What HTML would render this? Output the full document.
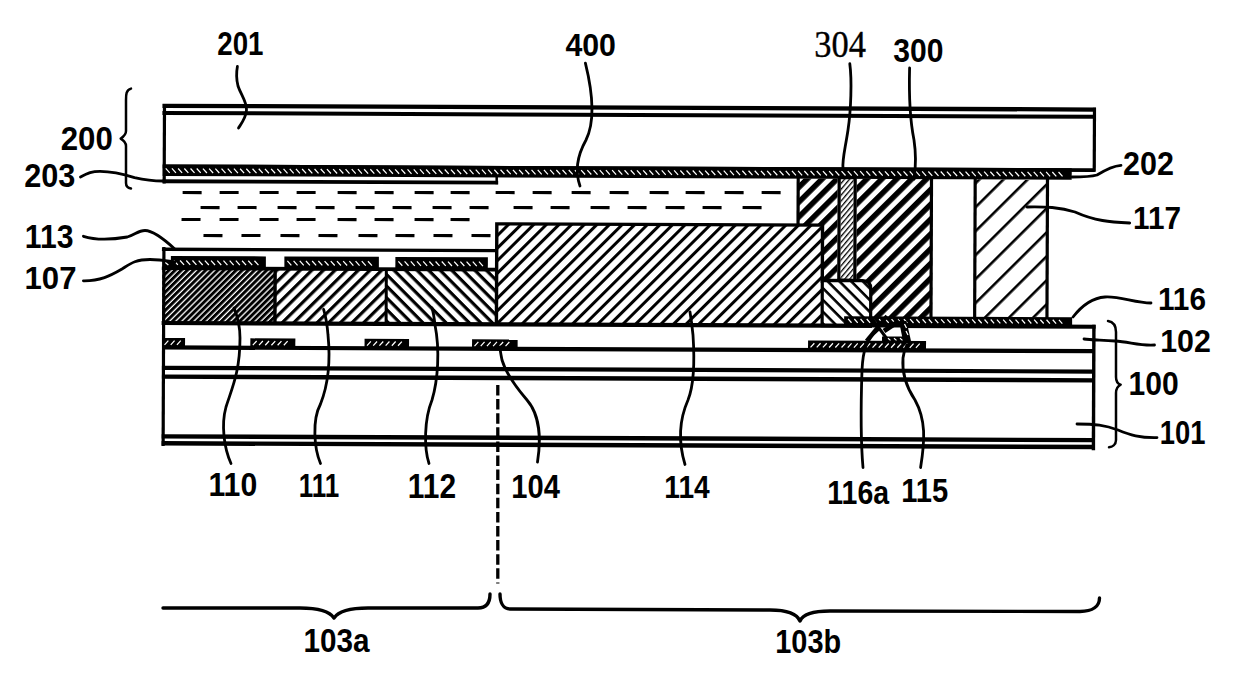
<!DOCTYPE html>
<html><head><meta charset="utf-8"><style>
html,body{margin:0;padding:0;background:#fff;overflow:hidden;}
svg{display:block;}
</style></head><body>
<svg width="1240" height="696" viewBox="0 0 1240 696">
<defs><pattern id="h114" patternUnits="userSpaceOnUse" width="40" height="8.9" patternTransform="rotate(-45)"><rect x="0" y="0" width="40" height="3.0" fill="#000"/></pattern><pattern id="h111" patternUnits="userSpaceOnUse" width="40" height="8.2" patternTransform="rotate(-45)"><rect x="0" y="0" width="40" height="3.2" fill="#000"/></pattern><pattern id="h112" patternUnits="userSpaceOnUse" width="40" height="8.2" patternTransform="rotate(45)"><rect x="0" y="0" width="40" height="3.2" fill="#000"/></pattern><pattern id="h110" patternUnits="userSpaceOnUse" width="40" height="4.3" patternTransform="rotate(-45)"><rect x="0" y="0" width="40" height="3.0" fill="#000"/></pattern><pattern id="h300" patternUnits="userSpaceOnUse" width="40" height="10.5" patternTransform="rotate(-45)"><rect x="0" y="0" width="40" height="5.5" fill="#000"/></pattern><pattern id="h117" patternUnits="userSpaceOnUse" width="40" height="17" patternTransform="rotate(-45)"><rect x="0" y="0" width="40" height="2.6" fill="#000"/></pattern><pattern id="h115" patternUnits="userSpaceOnUse" width="40" height="8.3" patternTransform="rotate(45)"><rect x="0" y="0" width="40" height="2.6" fill="#000"/></pattern><pattern id="h304" patternUnits="userSpaceOnUse" width="40" height="3.8" patternTransform="rotate(-50)"><rect x="0" y="0" width="40" height="1.3" fill="#000"/></pattern>
 <pattern id="mk" patternUnits="userSpaceOnUse" width="6.2" height="40">
  <path d="M0.8,0 L4.6,4.2" stroke="#fff" stroke-width="1.6"/>
 </pattern>
 <pattern id="mkf" patternUnits="userSpaceOnUse" width="6.2" height="40">
  <path d="M0.8,4.5 L4.6,0" stroke="#fff" stroke-width="1.6"/>
 </pattern>
</defs>
<rect width="1240" height="696" fill="#fff"/>
<g transform="rotate(0.23 163 104)">
<path d="M162.5,105.8 L1096,105.8" stroke="#000" stroke-width="4.3" fill="none"/>
<path d="M162.5,113 L1096,113" stroke="#000" stroke-width="4.0" fill="none"/>
<path d="M164.5,104 L164.5,183.5" stroke="#000" stroke-width="3.2" fill="none"/>
<path d="M1094.5,104 L1094.5,168" stroke="#000" stroke-width="3.2" fill="none"/>
<rect x="163" y="164.5" width="932" height="3.8" fill="#000"/>
<rect x="163" y="164.5" width="909" height="11.5" fill="#000"/>
<path d="M166.0,168.4 l4.0,4.4 M172.2,168.4 l4.0,4.4 M178.4,168.4 l4.0,4.4 M184.6,168.4 l4.0,4.4 M190.8,168.4 l4.0,4.4 M197.0,168.4 l4.0,4.4 M203.2,168.4 l4.0,4.4 M209.4,168.4 l4.0,4.4 M215.6,168.4 l4.0,4.4 M221.8,168.4 l4.0,4.4 M228.0,168.4 l4.0,4.4 M234.2,168.4 l4.0,4.4 M240.4,168.4 l4.0,4.4 M246.6,168.4 l4.0,4.4 M252.8,168.4 l4.0,4.4 M259.0,168.4 l4.0,4.4 M265.2,168.4 l4.0,4.4 M271.4,168.4 l4.0,4.4 M277.6,168.4 l4.0,4.4 M283.8,168.4 l4.0,4.4 M290.0,168.4 l4.0,4.4 M296.2,168.4 l4.0,4.4 M302.4,168.4 l4.0,4.4 M308.6,168.4 l4.0,4.4 M314.8,168.4 l4.0,4.4 M321.0,168.4 l4.0,4.4 M327.2,168.4 l4.0,4.4 M333.4,168.4 l4.0,4.4 M339.6,168.4 l4.0,4.4 M345.8,168.4 l4.0,4.4 M352.0,168.4 l4.0,4.4 M358.2,168.4 l4.0,4.4 M364.4,168.4 l4.0,4.4 M370.6,168.4 l4.0,4.4 M376.8,168.4 l4.0,4.4 M383.0,168.4 l4.0,4.4 M389.2,168.4 l4.0,4.4 M395.4,168.4 l4.0,4.4 M401.6,168.4 l4.0,4.4 M407.8,168.4 l4.0,4.4 M414.0,168.4 l4.0,4.4 M420.2,168.4 l4.0,4.4 M426.4,168.4 l4.0,4.4 M432.6,168.4 l4.0,4.4 M438.8,168.4 l4.0,4.4 M445.0,168.4 l4.0,4.4 M451.2,168.4 l4.0,4.4 M457.4,168.4 l4.0,4.4 M463.6,168.4 l4.0,4.4 M469.8,168.4 l4.0,4.4 M476.0,168.4 l4.0,4.4 M482.2,168.4 l4.0,4.4 M488.4,168.4 l4.0,4.4 M494.6,168.4 l4.0,4.4 M500.8,168.4 l4.0,4.4 M507.0,168.4 l4.0,4.4 M513.2,168.4 l4.0,4.4 M519.4,168.4 l4.0,4.4 M525.6,168.4 l4.0,4.4 M531.8,168.4 l4.0,4.4 M538.0,168.4 l4.0,4.4 M544.2,168.4 l4.0,4.4 M550.4,168.4 l4.0,4.4 M556.6,168.4 l4.0,4.4 M562.8,168.4 l4.0,4.4 M569.0,168.4 l4.0,4.4 M575.2,168.4 l4.0,4.4 M581.4,168.4 l4.0,4.4 M587.6,168.4 l4.0,4.4 M593.8,168.4 l4.0,4.4 M600.0,168.4 l4.0,4.4 M606.2,168.4 l4.0,4.4 M612.4,168.4 l4.0,4.4 M618.6,168.4 l4.0,4.4 M624.8,168.4 l4.0,4.4 M631.0,168.4 l4.0,4.4 M637.2,168.4 l4.0,4.4 M643.4,168.4 l4.0,4.4 M649.6,168.4 l4.0,4.4 M655.8,168.4 l4.0,4.4 M662.0,168.4 l4.0,4.4 M668.2,168.4 l4.0,4.4 M674.4,168.4 l4.0,4.4 M680.6,168.4 l4.0,4.4 M686.8,168.4 l4.0,4.4 M693.0,168.4 l4.0,4.4 M699.2,168.4 l4.0,4.4 M705.4,168.4 l4.0,4.4 M711.6,168.4 l4.0,4.4 M717.8,168.4 l4.0,4.4 M724.0,168.4 l4.0,4.4 M730.2,168.4 l4.0,4.4 M736.4,168.4 l4.0,4.4 M742.6,168.4 l4.0,4.4 M748.8,168.4 l4.0,4.4 M755.0,168.4 l4.0,4.4 M761.2,168.4 l4.0,4.4 M767.4,168.4 l4.0,4.4 M773.6,168.4 l4.0,4.4 M779.8,168.4 l4.0,4.4 M786.0,168.4 l4.0,4.4 M792.2,168.4 l4.0,4.4 M798.4,168.4 l4.0,4.4 M804.6,168.4 l4.0,4.4 M810.8,168.4 l4.0,4.4 M817.0,168.4 l4.0,4.4 M823.2,168.4 l4.0,4.4 M829.4,168.4 l4.0,4.4 M835.6,168.4 l4.0,4.4 M841.8,168.4 l4.0,4.4 M848.0,168.4 l4.0,4.4 M854.2,168.4 l4.0,4.4 M860.4,168.4 l4.0,4.4 M866.6,168.4 l4.0,4.4 M872.8,168.4 l4.0,4.4 M879.0,168.4 l4.0,4.4 M885.2,168.4 l4.0,4.4 M891.4,168.4 l4.0,4.4 M897.6,168.4 l4.0,4.4 M903.8,168.4 l4.0,4.4 M910.0,168.4 l4.0,4.4 M916.2,168.4 l4.0,4.4 M922.4,168.4 l4.0,4.4 M928.6,168.4 l4.0,4.4 M934.8,168.4 l4.0,4.4 M941.0,168.4 l4.0,4.4 M947.2,168.4 l4.0,4.4 M953.4,168.4 l4.0,4.4 M959.6,168.4 l4.0,4.4 M965.8,168.4 l4.0,4.4 M972.0,168.4 l4.0,4.4 M978.2,168.4 l4.0,4.4 M984.4,168.4 l4.0,4.4 M990.6,168.4 l4.0,4.4 M996.8,168.4 l4.0,4.4 M1003.0,168.4 l4.0,4.4 M1009.2,168.4 l4.0,4.4 M1015.4,168.4 l4.0,4.4 M1021.6,168.4 l4.0,4.4 M1027.8,168.4 l4.0,4.4 M1034.0,168.4 l4.0,4.4 M1040.2,168.4 l4.0,4.4 M1046.4,168.4 l4.0,4.4 M1052.6,168.4 l4.0,4.4 M1058.8,168.4 l4.0,4.4" stroke="#fff" stroke-width="1.25" fill="none"/>
<path d="M163,181.3 L498.5,181.3" stroke="#000" stroke-width="3.9" fill="none"/>
<path d="M497,175 L497,183" stroke="#000" stroke-width="2.5" fill="none"/>
<path d="M183,192.42 h19" stroke="#000" stroke-width="3.1"/>
<path d="M220,192.27 h19" stroke="#000" stroke-width="3.1"/>
<path d="M260,192.11 h19" stroke="#000" stroke-width="3.1"/>
<path d="M297,191.96 h19" stroke="#000" stroke-width="3.1"/>
<path d="M338,191.80 h19" stroke="#000" stroke-width="3.1"/>
<path d="M375,191.65 h19" stroke="#000" stroke-width="3.1"/>
<path d="M415,191.49 h19" stroke="#000" stroke-width="3.1"/>
<path d="M451,191.35 h19" stroke="#000" stroke-width="3.1"/>
<path d="M496,191.17 h19" stroke="#000" stroke-width="3.1"/>
<path d="M533,191.02 h19" stroke="#000" stroke-width="3.1"/>
<path d="M572,190.86 h19" stroke="#000" stroke-width="3.1"/>
<path d="M610,190.71 h19" stroke="#000" stroke-width="3.1"/>
<path d="M650,190.55 h19" stroke="#000" stroke-width="3.1"/>
<path d="M686,190.41 h19" stroke="#000" stroke-width="3.1"/>
<path d="M725,190.25 h19" stroke="#000" stroke-width="3.1"/>
<path d="M762,190.10 h19" stroke="#000" stroke-width="3.1"/>
<path d="M201,207.35 h19" stroke="#000" stroke-width="3.1"/>
<path d="M238,207.20 h19" stroke="#000" stroke-width="3.1"/>
<path d="M278,207.04 h19" stroke="#000" stroke-width="3.1"/>
<path d="M316,206.89 h19" stroke="#000" stroke-width="3.1"/>
<path d="M356,206.73 h19" stroke="#000" stroke-width="3.1"/>
<path d="M393,206.58 h19" stroke="#000" stroke-width="3.1"/>
<path d="M433,206.42 h19" stroke="#000" stroke-width="3.1"/>
<path d="M470,206.27 h19" stroke="#000" stroke-width="3.1"/>
<path d="M514,206.10 h19" stroke="#000" stroke-width="3.1"/>
<path d="M551,205.95 h19" stroke="#000" stroke-width="3.1"/>
<path d="M591,205.79 h19" stroke="#000" stroke-width="3.1"/>
<path d="M628,205.64 h19" stroke="#000" stroke-width="3.1"/>
<path d="M666,205.49 h19" stroke="#000" stroke-width="3.1"/>
<path d="M703,205.34 h19" stroke="#000" stroke-width="3.1"/>
<path d="M743,205.18 h19" stroke="#000" stroke-width="3.1"/>
<path d="M182,219.42 h19" stroke="#000" stroke-width="3.1"/>
<path d="M220,219.27 h19" stroke="#000" stroke-width="3.1"/>
<path d="M260,219.11 h19" stroke="#000" stroke-width="3.1"/>
<path d="M297,218.96 h19" stroke="#000" stroke-width="3.1"/>
<path d="M338,218.80 h19" stroke="#000" stroke-width="3.1"/>
<path d="M375,218.65 h19" stroke="#000" stroke-width="3.1"/>
<path d="M415,218.49 h19" stroke="#000" stroke-width="3.1"/>
<path d="M451,218.35 h19" stroke="#000" stroke-width="3.1"/>
<path d="M204,235.34 h19" stroke="#000" stroke-width="3.1"/>
<path d="M242,235.18 h19" stroke="#000" stroke-width="3.1"/>
<path d="M281,235.03 h19" stroke="#000" stroke-width="3.1"/>
<path d="M319,234.88 h19" stroke="#000" stroke-width="3.1"/>
<path d="M359,234.72 h19" stroke="#000" stroke-width="3.1"/>
<path d="M396,234.57 h19" stroke="#000" stroke-width="3.1"/>
<path d="M434,234.42 h19" stroke="#000" stroke-width="3.1"/>
<path d="M472,234.26 h19" stroke="#000" stroke-width="3.1"/>
<path d="M162.5,249.3 L498,249.3" stroke="#000" stroke-width="3.4" fill="none"/>
<path d="M164.5,247 L164.5,446" stroke="#000" stroke-width="3.2" fill="none"/>
<rect x="163" y="260" width="10" height="8" fill="#000"/>
<path d="M166,262.5 l3,2.5" stroke="#fff" stroke-width="1.2"/>
<rect x="171.5" y="256" width="95.0" height="12" fill="#000"/>
<path d="M174.5,260.4 l4.0,4.4 M180.7,260.4 l4.0,4.4 M186.9,260.4 l4.0,4.4 M193.1,260.4 l4.0,4.4 M199.3,260.4 l4.0,4.4 M205.5,260.4 l4.0,4.4 M211.7,260.4 l4.0,4.4 M217.9,260.4 l4.0,4.4 M224.1,260.4 l4.0,4.4 M230.3,260.4 l4.0,4.4 M236.5,260.4 l4.0,4.4 M242.7,260.4 l4.0,4.4 M248.9,260.4 l4.0,4.4 M255.1,260.4 l4.0,4.4" stroke="#fff" stroke-width="1.25" fill="none"/>
<rect x="285" y="256" width="94.5" height="12" fill="#000"/>
<path d="M288.0,260.4 l4.0,4.4 M294.2,260.4 l4.0,4.4 M300.4,260.4 l4.0,4.4 M306.6,260.4 l4.0,4.4 M312.8,260.4 l4.0,4.4 M319.0,260.4 l4.0,4.4 M325.2,260.4 l4.0,4.4 M331.4,260.4 l4.0,4.4 M337.6,260.4 l4.0,4.4 M343.8,260.4 l4.0,4.4 M350.0,260.4 l4.0,4.4 M356.2,260.4 l4.0,4.4 M362.4,260.4 l4.0,4.4 M368.6,260.4 l4.0,4.4" stroke="#fff" stroke-width="1.25" fill="none"/>
<rect x="396" y="256" width="92.5" height="12" fill="#000"/>
<path d="M399.0,260.4 l4.0,4.4 M405.2,260.4 l4.0,4.4 M411.4,260.4 l4.0,4.4 M417.6,260.4 l4.0,4.4 M423.8,260.4 l4.0,4.4 M430.0,260.4 l4.0,4.4 M436.2,260.4 l4.0,4.4 M442.4,260.4 l4.0,4.4 M448.6,260.4 l4.0,4.4 M454.8,260.4 l4.0,4.4 M461.0,260.4 l4.0,4.4 M467.2,260.4 l4.0,4.4 M473.4,260.4 l4.0,4.4 M479.6,260.4 l4.0,4.4" stroke="#fff" stroke-width="1.25" fill="none"/>
<rect x="163" y="268" width="113" height="55" fill="url(#h110)"/>
<rect x="276" y="268" width="111" height="55" fill="url(#h111)"/>
<rect x="387" y="268" width="110" height="55" fill="url(#h112)"/>
<path d="M162.5,268.3 L498,268.3" stroke="#000" stroke-width="3.6" fill="none"/>
<path d="M275.8,268 L275.8,323" stroke="#000" stroke-width="3.4" fill="none"/>
<path d="M387,268 L387,323" stroke="#000" stroke-width="3" fill="none"/>
<rect x="798" y="176" width="135" height="141" fill="url(#h300)"/>
<rect x="497" y="222.5" width="326" height="100" fill="#fff"/>
<rect x="497" y="222.5" width="326" height="100" fill="url(#h114)"/>
<path d="M497.3,323 L497.3,222.5 L823,222.5 L823,280" stroke="#000" stroke-width="3.4" fill="none"/>
<path d="M798.5,175 L798.5,222.5" stroke="#000" stroke-width="3.2" fill="none"/>
<path d="M931.8,175 L931.8,316" stroke="#000" stroke-width="3.2" fill="none"/>
<rect x="838" y="176" width="19" height="101.5" fill="#fff"/>
<rect x="841" y="176" width="13" height="101.5" fill="url(#h304)"/>
<rect x="839.5" y="175" width="16" height="102.5" stroke="#000" stroke-width="3.2" fill="none"/>
<path d="M823,277.8 L863.5,277.8 Q871.5,277.8 871.5,286 L871.5,323 L823,323 Z" fill="#fff"/>
<path d="M823,277.8 L863.5,277.8 Q871.5,277.8 871.5,286 L871.5,323 L823,323 Z" fill="url(#h115)" stroke="#000" stroke-width="3.2"/>
<rect x="975.5" y="176" width="72.5" height="138" fill="url(#h117)"/>
<path d="M975.5,175 L975.5,314.5" stroke="#000" stroke-width="3.2" fill="none"/>
<path d="M1047.8,175 L1047.8,314.5" stroke="#000" stroke-width="3.2" fill="none"/>
<rect x="845" y="313.5" width="228" height="9" fill="#000"/>
<path d="M849.0,316.2 l3.4,3.8 M855.2,316.2 l3.4,3.8 M861.4,316.2 l3.4,3.8 M867.6,316.2 l3.4,3.8 M873.8,316.2 l3.4,3.8 M880.0,316.2 l3.4,3.8 M886.2,316.2 l3.4,3.8 M892.4,316.2 l3.4,3.8 M898.6,316.2 l3.4,3.8 M904.8,316.2 l3.4,3.8 M911.0,316.2 l3.4,3.8 M917.2,316.2 l3.4,3.8 M923.4,316.2 l3.4,3.8 M929.6,316.2 l3.4,3.8 M935.8,316.2 l3.4,3.8 M942.0,316.2 l3.4,3.8 M948.2,316.2 l3.4,3.8 M954.4,316.2 l3.4,3.8 M960.6,316.2 l3.4,3.8 M966.8,316.2 l3.4,3.8 M973.0,316.2 l3.4,3.8 M979.2,316.2 l3.4,3.8 M985.4,316.2 l3.4,3.8 M991.6,316.2 l3.4,3.8 M997.8,316.2 l3.4,3.8 M1004.0,316.2 l3.4,3.8 M1010.2,316.2 l3.4,3.8 M1016.4,316.2 l3.4,3.8 M1022.6,316.2 l3.4,3.8 M1028.8,316.2 l3.4,3.8 M1035.0,316.2 l3.4,3.8 M1041.2,316.2 l3.4,3.8 M1047.4,316.2 l3.4,3.8 M1053.6,316.2 l3.4,3.8 M1059.8,316.2 l3.4,3.8" stroke="#fff" stroke-width="1.25" fill="none"/>
<path d="M162.5,323 L1096.5,323" stroke="#000" stroke-width="4.2" fill="none"/>
<path d="M1094.8,321 L1094.8,446.5" stroke="#000" stroke-width="3.4" fill="none"/>
<path d="M163,347.4 L1096,347.4" stroke="#000" stroke-width="4.2" fill="none"/>
<path d="M163,367.8 L1096,367.8" stroke="#000" stroke-width="4.2" fill="none"/>
<path d="M163,376.6 L1096,376.6" stroke="#000" stroke-width="4.4" fill="none"/>
<path d="M163,436.4 L1096,436.4" stroke="#000" stroke-width="4.4" fill="none"/>
<path d="M163,443.3 L1096,443.3" stroke="#000" stroke-width="4.4" fill="none"/>
<rect x="163" y="338" width="23" height="9.3" fill="#000"/>
<path d="M165.5,344.8 l3.8,-4.2 M171.7,344.8 l3.8,-4.2 M177.9,344.8 l3.8,-4.2" stroke="#fff" stroke-width="1.25" fill="none"/>
<rect x="251.3" y="338" width="45.0" height="9.3" fill="#000"/>
<path d="M253.8,344.8 l3.8,-4.2 M260.0,344.8 l3.8,-4.2 M266.2,344.8 l3.8,-4.2 M272.4,344.8 l3.8,-4.2 M278.6,344.8 l3.8,-4.2 M284.8,344.8 l3.8,-4.2" stroke="#fff" stroke-width="1.25" fill="none"/>
<rect x="365.5" y="338" width="44.5" height="9.3" fill="#000"/>
<path d="M368.0,344.8 l3.8,-4.2 M374.2,344.8 l3.8,-4.2 M380.4,344.8 l3.8,-4.2 M386.6,344.8 l3.8,-4.2 M392.8,344.8 l3.8,-4.2 M399.0,344.8 l3.8,-4.2" stroke="#fff" stroke-width="1.25" fill="none"/>
<rect x="473" y="338" width="45.60000000000002" height="9.3" fill="#000"/>
<path d="M475.5,344.8 l3.8,-4.2 M481.7,344.8 l3.8,-4.2 M487.9,344.8 l3.8,-4.2 M494.1,344.8 l3.8,-4.2 M500.3,344.8 l3.8,-4.2 M506.5,344.8 l3.8,-4.2" stroke="#fff" stroke-width="1.25" fill="none"/>
<rect x="809" y="338" width="118" height="9.3" fill="#000"/>
<path d="M811.5,344.8 l3.8,-4.2 M817.7,344.8 l3.8,-4.2 M823.9,344.8 l3.8,-4.2 M830.1,344.8 l3.8,-4.2 M836.3,344.8 l3.8,-4.2 M842.5,344.8 l3.8,-4.2 M848.7,344.8 l3.8,-4.2 M854.9,344.8 l3.8,-4.2 M861.1,344.8 l3.8,-4.2 M867.3,344.8 l3.8,-4.2 M873.5,344.8 l3.8,-4.2 M879.7,344.8 l3.8,-4.2 M885.9,344.8 l3.8,-4.2 M892.1,344.8 l3.8,-4.2 M898.3,344.8 l3.8,-4.2 M904.5,344.8 l3.8,-4.2 M910.7,344.8 l3.8,-4.2 M916.9,344.8 l3.8,-4.2" stroke="#fff" stroke-width="1.25" fill="none"/>
</g>
<rect x="872" y="327.5" width="33" height="12" fill="#fff"/>
<path d="M866.5,341 L887,316" stroke="#000" stroke-width="4" fill="none"/>
<path d="M870.5,316.5 L888.5,341" stroke="#000" stroke-width="3" fill="none"/>
<path d="M899,321 L906.5,321 L911,341 L903,341 Z" fill="#000"/>
<path d="M882,336.5 L908,336.5 L908,341.5 L882,341.5 Z" fill="#000"/>
<path d="M884,331 L899,321" stroke="#000" stroke-width="5" fill="none"/>
<path d="M904.5,324 l2,4 M906,331 l2,4 M888,338.2 l2.5,2.2 M894,338.2 l2.5,2.2 M900,338.2 l2.5,2.2" stroke="#fff" stroke-width="1.2" fill="none"/>
<path d="M497.8,385 L497.8,583.5" stroke="#000" stroke-width="3.3" stroke-dasharray="10.5,3.6" fill="none"/>
<path d="M163,608 L300,608 C320,608 330,612 334,618 C338,612 348,608 368,608 L478,608 C486,608 490,603 490,594" stroke="#000" stroke-width="3.4" fill="none" stroke-linecap="round" stroke-linejoin="round"/>
<path d="M500,594 C500,602 503,609 510,609 L770,610 C788,610 797,614 800,621 C803,614 812,611 830,611 L1080,611.5 C1093,611.5 1099.5,606 1099.5,598" stroke="#000" stroke-width="3.4" fill="none" stroke-linecap="round" stroke-linejoin="round"/>
<path d="M131,88.6 C126,90 126,95 126,100 L126,131 C126,135 123,137 120.7,138.6 C123,140 126,142 126,146 L126,183 C126,186 128,188 131,188.6" stroke="#000" stroke-width="2.5" fill="none" stroke-linecap="round" stroke-linejoin="round"/>
<path d="M1108,321 C1114,322 1116,326 1116,332 L1116,377 C1116,381 1118,384 1120.7,384.6 C1118,386 1116,389 1116,393 L1116,440 C1116,445 1112,447 1109,447.3" stroke="#000" stroke-width="2.5" fill="none" stroke-linecap="round" stroke-linejoin="round"/>
<path d="M237.4,66.5 C236,74 236.5,80 238,86 C241,95 247,102 246.5,110 C246,118 241,124 238.5,128" stroke="#000" stroke-width="2.8" fill="none" stroke-linecap="round" stroke-linejoin="round"/>
<path d="M585.4,63.2 C592,90 596,120 586,140 C576,158 575,172 580,186" stroke="#000" stroke-width="2.8" fill="none" stroke-linecap="round" stroke-linejoin="round"/>
<path d="M849.8,63.7 C852,80 851,110 848,130 C845,150 842,160 843,169" stroke="#000" stroke-width="2.8" fill="none" stroke-linecap="round" stroke-linejoin="round"/>
<path d="M909.6,68 C909,90 910,120 914,140 C917,160 915,172 914,179" stroke="#000" stroke-width="2.8" fill="none" stroke-linecap="round" stroke-linejoin="round"/>
<path d="M80.5,177 C88,173 92,171.3 100,171.3 C110,171.3 120,173 134.5,177.6 C145,180 155,181 163,181" stroke="#000" stroke-width="2.8" fill="none" stroke-linecap="round" stroke-linejoin="round"/>
<path d="M83.4,236.3 C95,240 110,240 127.3,237 C135,235 138,230.5 145,230.5 C152,230.5 165,240 175,249.2" stroke="#000" stroke-width="2.8" fill="none" stroke-linecap="round" stroke-linejoin="round"/>
<path d="M83.4,280.8 C100,281 110,276 122,269 C130,264 135,259.5 150,259.5 C160,259.5 168,261 175,262" stroke="#000" stroke-width="2.8" fill="none" stroke-linecap="round" stroke-linejoin="round"/>
<path d="M231,463.5 C224,448 221,425 226,407 C232,388 240,372 240,338 C240,322 236,313 234,308" stroke="#000" stroke-width="2.8" fill="none" stroke-linecap="round" stroke-linejoin="round"/>
<path d="M320.5,463.5 C314,448 312,420 320.5,404 C328,385 331,365 328,335 C327,322 325,314 323.6,309.4" stroke="#000" stroke-width="2.8" fill="none" stroke-linecap="round" stroke-linejoin="round"/>
<path d="M429,463.5 C424,448 424,420 432,400 C438,380 440,350 435,325 C434,316 433,311 432,308" stroke="#000" stroke-width="2.8" fill="none" stroke-linecap="round" stroke-linejoin="round"/>
<path d="M537.5,462 C541,440 540,415 527,400 C515,386 505,370 502,360 C501,355 500,350 500,347" stroke="#000" stroke-width="2.8" fill="none" stroke-linecap="round" stroke-linejoin="round"/>
<path d="M685,464.5 C680,448 677,425 688,400 C696,380 694,350 693,335 C692,325 691,318 690,312" stroke="#000" stroke-width="2.8" fill="none" stroke-linecap="round" stroke-linejoin="round"/>
<path d="M863,467.5 C861,445 861,400 862,370 C863,350 866,340 878,330" stroke="#000" stroke-width="2.8" fill="none" stroke-linecap="round" stroke-linejoin="round"/>
<path d="M920.6,467.5 C925,440 926,420 915,400 C905,385 902,370 903,358 C904,350 906,347 907,345" stroke="#000" stroke-width="2.8" fill="none" stroke-linecap="round" stroke-linejoin="round"/>
<path d="M1151,303 C1135,303 1120,296 1105,297 C1090,298 1080,308 1073,317" stroke="#000" stroke-width="2.8" fill="none" stroke-linecap="round" stroke-linejoin="round"/>
<path d="M1154.5,345 C1140,346 1130,342 1115,341 C1100,340 1090,340 1084,339" stroke="#000" stroke-width="2.8" fill="none" stroke-linecap="round" stroke-linejoin="round"/>
<path d="M1157,437.6 C1140,438 1130,435 1118,430 C1105,425 1095,424 1077,424" stroke="#000" stroke-width="2.8" fill="none" stroke-linecap="round" stroke-linejoin="round"/>
<path d="M1129.7,223 C1110,222 1095,221 1075,212 C1060,207 1045,206.7 1027,207" stroke="#000" stroke-width="2.8" fill="none" stroke-linecap="round" stroke-linejoin="round"/>
<path d="M1121,165.3 C1112,166 1105,170 1097,175 C1090,177 1080,177 1072,177" stroke="#000" stroke-width="2.8" fill="none" stroke-linecap="round" stroke-linejoin="round"/>
<text transform="matrix(0.2770,0,0,0.3380,217.27,54.76)" x="0" y="0" font-family="'Liberation Sans', sans-serif" font-weight="bold" font-size="100">201</text>
<text transform="matrix(0.3031,0,0,0.3211,565.39,55.58)" x="0" y="0" font-family="'Liberation Sans', sans-serif" font-weight="bold" font-size="100">400</text>
<text transform="matrix(0.3444,0,0,0.3694,814.35,57.38)" x="0" y="0" font-family="'Liberation Serif', serif" font-weight="normal" font-size="100" stroke="#000" stroke-width="1.01">304</text>
<text transform="matrix(0.3006,0,0,0.3366,893.30,61.56)" x="0" y="0" font-family="'Liberation Sans', sans-serif" font-weight="bold" font-size="100">300</text>
<text transform="matrix(0.3125,0,0,0.3394,60.66,149.66)" x="0" y="0" font-family="'Liberation Sans', sans-serif" font-weight="bold" font-size="100">200</text>
<text transform="matrix(0.3069,0,0,0.3239,24.18,186.88)" x="0" y="0" font-family="'Liberation Sans', sans-serif" font-weight="bold" font-size="100">203</text>
<text transform="matrix(0.3013,0,0,0.3268,24.79,247.57)" x="0" y="0" font-family="'Liberation Sans', sans-serif" font-weight="bold" font-size="100">113</text>
<text transform="matrix(0.3115,0,0,0.3169,24.53,289.48)" x="0" y="0" font-family="'Liberation Sans', sans-serif" font-weight="bold" font-size="100">107</text>
<text transform="matrix(0.3050,0,0,0.3282,1123.09,175.37)" x="0" y="0" font-family="'Liberation Sans', sans-serif" font-weight="bold" font-size="100">202</text>
<text transform="matrix(0.2974,0,0,0.3101,1133.02,229.00)" x="0" y="0" font-family="'Liberation Sans', sans-serif" font-weight="bold" font-size="100">117</text>
<text transform="matrix(0.2980,0,0,0.3211,1157.91,309.58)" x="0" y="0" font-family="'Liberation Sans', sans-serif" font-weight="bold" font-size="100">116</text>
<text transform="matrix(0.3038,0,0,0.3155,1160.18,352.08)" x="0" y="0" font-family="'Liberation Sans', sans-serif" font-weight="bold" font-size="100">102</text>
<text transform="matrix(0.3006,0,0,0.3310,1128.60,394.57)" x="0" y="0" font-family="'Liberation Sans', sans-serif" font-weight="bold" font-size="100">100</text>
<text transform="matrix(0.2741,0,0,0.3282,1159.76,444.37)" x="0" y="0" font-family="'Liberation Sans', sans-serif" font-weight="bold" font-size="100">101</text>
<text transform="matrix(0.3020,0,0,0.3268,208.49,496.37)" x="0" y="0" font-family="'Liberation Sans', sans-serif" font-weight="bold" font-size="100">110</text>
<text transform="matrix(0.2605,0,0,0.3362,298.64,496.70)" x="0" y="0" font-family="'Liberation Sans', sans-serif" font-weight="bold" font-size="100">111</text>
<text transform="matrix(0.2993,0,0,0.3429,407.80,497.90)" x="0" y="0" font-family="'Liberation Sans', sans-serif" font-weight="bold" font-size="100">112</text>
<text transform="matrix(0.2913,0,0,0.3380,511.35,497.56)" x="0" y="0" font-family="'Liberation Sans', sans-serif" font-weight="bold" font-size="100">104</text>
<text transform="matrix(0.2813,0,0,0.3217,664.31,498.20)" x="0" y="0" font-family="'Liberation Sans', sans-serif" font-weight="bold" font-size="100">114</text>
<text transform="matrix(0.2848,0,0,0.3268,827.29,503.57)" x="0" y="0" font-family="'Liberation Sans', sans-serif" font-weight="bold" font-size="100">116a</text>
<text transform="matrix(0.2915,0,0,0.3386,901.25,501.86)" x="0" y="0" font-family="'Liberation Sans', sans-serif" font-weight="bold" font-size="100">115</text>
<text transform="matrix(0.2968,0,0,0.3380,303.52,651.86)" x="0" y="0" font-family="'Liberation Sans', sans-serif" font-weight="bold" font-size="100">103a</text>
<text transform="matrix(0.2890,0,0,0.3284,775.27,653.27)" x="0" y="0" font-family="'Liberation Sans', sans-serif" font-weight="bold" font-size="100">103b</text>
</svg>
</body></html>
